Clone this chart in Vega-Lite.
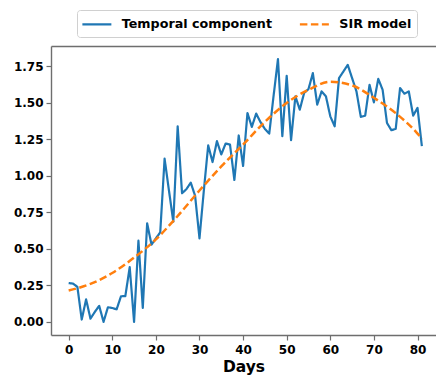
{
  "$schema": "https://vega.github.io/schema/vega-lite/v6.json",
  "autosize": {"type": "none"},
  "width": 385,
  "height": 289,
  "padding": {"left": 51, "top": 46, "right": 0, "bottom": 43},
  "background": "white",
  "config": {
    "view": {"stroke": null},
    "font": "DejaVu Sans",
    "axis": {
      "grid": false,
      "domainColor": "#6e6e6e",
      "domainWidth": 1.4,
      "tickColor": "#6e6e6e",
      "tickWidth": 1.2,
      "tickSize": 5,
      "labelFont": "DejaVu Sans",
      "labelFontWeight": "bold",
      "labelFontSize": 12,
      "labelColor": "black",
      "titleFont": "DejaVu Sans",
      "titleFontWeight": "bold",
      "titleColor": "black"
    },
    "legend": {
      "gridAlign": "each"
    }
  },
  "data": {
    "values": [
      {"day": 0, "value": 0.266, "series": "Temporal component"},
      {"day": 1, "value": 0.262, "series": "Temporal component"},
      {"day": 2, "value": 0.24, "series": "Temporal component"},
      {"day": 3, "value": 0.016, "series": "Temporal component"},
      {"day": 4, "value": 0.154, "series": "Temporal component"},
      {"day": 5, "value": 0.022, "series": "Temporal component"},
      {"day": 6, "value": 0.068, "series": "Temporal component"},
      {"day": 7, "value": 0.11, "series": "Temporal component"},
      {"day": 8, "value": 0.0, "series": "Temporal component"},
      {"day": 9, "value": 0.1, "series": "Temporal component"},
      {"day": 10, "value": 0.095, "series": "Temporal component"},
      {"day": 11, "value": 0.086, "series": "Temporal component"},
      {"day": 12, "value": 0.175, "series": "Temporal component"},
      {"day": 13, "value": 0.177, "series": "Temporal component"},
      {"day": 14, "value": 0.375, "series": "Temporal component"},
      {"day": 15, "value": 0.0, "series": "Temporal component"},
      {"day": 16, "value": 0.556, "series": "Temporal component"},
      {"day": 17, "value": 0.095, "series": "Temporal component"},
      {"day": 18, "value": 0.675, "series": "Temporal component"},
      {"day": 19, "value": 0.529, "series": "Temporal component"},
      {"day": 20, "value": 0.572, "series": "Temporal component"},
      {"day": 21, "value": 0.613, "series": "Temporal component"},
      {"day": 22, "value": 1.118, "series": "Temporal component"},
      {"day": 23, "value": 0.9, "series": "Temporal component"},
      {"day": 24, "value": 0.686, "series": "Temporal component"},
      {"day": 25, "value": 1.34, "series": "Temporal component"},
      {"day": 26, "value": 0.881, "series": "Temporal component"},
      {"day": 27, "value": 0.909, "series": "Temporal component"},
      {"day": 28, "value": 0.954, "series": "Temporal component"},
      {"day": 29, "value": 0.863, "series": "Temporal component"},
      {"day": 30, "value": 0.572, "series": "Temporal component"},
      {"day": 31, "value": 0.9, "series": "Temporal component"},
      {"day": 32, "value": 1.209, "series": "Temporal component"},
      {"day": 33, "value": 1.095, "series": "Temporal component"},
      {"day": 34, "value": 1.238, "series": "Temporal component"},
      {"day": 35, "value": 1.147, "series": "Temporal component"},
      {"day": 36, "value": 1.222, "series": "Temporal component"},
      {"day": 37, "value": 1.215, "series": "Temporal component"},
      {"day": 38, "value": 0.972, "series": "Temporal component"},
      {"day": 39, "value": 1.277, "series": "Temporal component"},
      {"day": 40, "value": 1.068, "series": "Temporal component"},
      {"day": 41, "value": 1.431, "series": "Temporal component"},
      {"day": 42, "value": 1.336, "series": "Temporal component"},
      {"day": 43, "value": 1.427, "series": "Temporal component"},
      {"day": 44, "value": 1.368, "series": "Temporal component"},
      {"day": 45, "value": 1.322, "series": "Temporal component"},
      {"day": 46, "value": 1.29, "series": "Temporal component"},
      {"day": 47, "value": 1.55, "series": "Temporal component"},
      {"day": 48, "value": 1.8, "series": "Temporal component"},
      {"day": 49, "value": 1.272, "series": "Temporal component"},
      {"day": 50, "value": 1.686, "series": "Temporal component"},
      {"day": 51, "value": 1.245, "series": "Temporal component"},
      {"day": 52, "value": 1.545, "series": "Temporal component"},
      {"day": 53, "value": 1.454, "series": "Temporal component"},
      {"day": 54, "value": 1.568, "series": "Temporal component"},
      {"day": 55, "value": 1.595, "series": "Temporal component"},
      {"day": 56, "value": 1.704, "series": "Temporal component"},
      {"day": 57, "value": 1.488, "series": "Temporal component"},
      {"day": 58, "value": 1.579, "series": "Temporal component"},
      {"day": 59, "value": 1.545, "series": "Temporal component"},
      {"day": 60, "value": 1.408, "series": "Temporal component"},
      {"day": 61, "value": 1.34, "series": "Temporal component"},
      {"day": 62, "value": 1.67, "series": "Temporal component"},
      {"day": 63, "value": 1.715, "series": "Temporal component"},
      {"day": 64, "value": 1.761, "series": "Temporal component"},
      {"day": 65, "value": 1.67, "series": "Temporal component"},
      {"day": 66, "value": 1.579, "series": "Temporal component"},
      {"day": 67, "value": 1.404, "series": "Temporal component"},
      {"day": 68, "value": 1.413, "series": "Temporal component"},
      {"day": 69, "value": 1.624, "series": "Temporal component"},
      {"day": 70, "value": 1.504, "series": "Temporal component"},
      {"day": 71, "value": 1.665, "series": "Temporal component"},
      {"day": 72, "value": 1.59, "series": "Temporal component"},
      {"day": 73, "value": 1.363, "series": "Temporal component"},
      {"day": 74, "value": 1.313, "series": "Temporal component"},
      {"day": 75, "value": 1.322, "series": "Temporal component"},
      {"day": 76, "value": 1.602, "series": "Temporal component"},
      {"day": 77, "value": 1.563, "series": "Temporal component"},
      {"day": 78, "value": 1.579, "series": "Temporal component"},
      {"day": 79, "value": 1.413, "series": "Temporal component"},
      {"day": 80, "value": 1.466, "series": "Temporal component"},
      {"day": 81, "value": 1.204, "series": "Temporal component"},
      {"day": 0, "value": 0.215, "series": "SIR model"},
      {"day": 5, "value": 0.26, "series": "SIR model"},
      {"day": 10, "value": 0.335, "series": "SIR model"},
      {"day": 15, "value": 0.44, "series": "SIR model"},
      {"day": 20, "value": 0.565, "series": "SIR model"},
      {"day": 25, "value": 0.725, "series": "SIR model"},
      {"day": 30, "value": 0.9, "series": "SIR model"},
      {"day": 35, "value": 1.065, "series": "SIR model"},
      {"day": 40, "value": 1.215, "series": "SIR model"},
      {"day": 45, "value": 1.37, "series": "SIR model"},
      {"day": 50, "value": 1.5, "series": "SIR model"},
      {"day": 55, "value": 1.59, "series": "SIR model"},
      {"day": 60, "value": 1.645, "series": "SIR model"},
      {"day": 65, "value": 1.62, "series": "SIR model"},
      {"day": 70, "value": 1.535, "series": "SIR model"},
      {"day": 75, "value": 1.43, "series": "SIR model"},
      {"day": 80, "value": 1.29, "series": "SIR model"},
      {"day": 81, "value": 1.255, "series": "SIR model"}
    ]
  },
  "resolve": {"axis": {"x": "independent"}},
  "layer": [
    {
      "transform": [{"filter": "datum.series === 'Temporal component'"}],
      "mark": {"type": "line", "strokeWidth": 2.2, "strokeJoin": "round"},
      "encoding": {
        "x": {
          "field": "day", "type": "quantitative",
          "scale": {"domain": [-4.05, 84.24], "nice": false, "zero": false},
          "axis": {"values": [0, 10, 20, 30, 40, 50, 60, 70, 80], "title": "Days", "titleFontSize": 15.5, "labelPadding": 4, "titlePadding": 4, "labelFlush": false}
        },
        "y": {
          "field": "value", "type": "quantitative",
          "scale": {"domain": [-0.09, 1.89], "nice": false, "zero": false},
          "axis": {"values": [0, 0.25, 0.5, 0.75, 1, 1.25, 1.5, 1.75], "format": ".2f", "title": null, "labelPadding": 3}
        },
        "color": {
          "field": "series", "type": "nominal",
          "scale": {"domain": ["Temporal component", "SIR model"], "range": ["#1f77b4", "#ff7f0e"]},
          "legend": {
            "title": null, "orient": "none", "direction": "horizontal",
            "legendX": 26, "legendY": -36, "gridAlign": "each",
            "fillColor": "white", "strokeColor": "#d0d0d0", "cornerRadius": 3,
            "padding": 5.5, "columnPadding": 22.5,
            "symbolType": "M-1.23,0H2.91", "symbolSize": 196, "symbolStrokeWidth": 2.2,
            "labelOffset": 22.3, "labelFont": "DejaVu Sans", "labelFontWeight": "bold",
            "labelFontSize": 12.7, "labelColor": "black", "labelLimit": 300
          }
        },
        "strokeDash": {
          "field": "series", "type": "nominal",
          "scale": {"domain": ["Temporal component", "SIR model"], "range": [[1, 0], [7.5, 3.5]]},
          "legend": {
            "title": null, "orient": "none", "direction": "horizontal",
            "legendX": 26, "legendY": -36, "gridAlign": "each",
            "fillColor": "white", "strokeColor": "#d0d0d0", "cornerRadius": 3,
            "padding": 5.5, "columnPadding": 22.5,
            "symbolType": "M-1.23,0H2.91", "symbolSize": 196, "symbolStrokeWidth": 2.2,
            "labelOffset": 22.3, "labelFont": "DejaVu Sans", "labelFontWeight": "bold",
            "labelFontSize": 12.7, "labelColor": "black", "labelLimit": 300
          }
        }
      }
    },
    {
      "transform": [{"filter": "datum.series === 'SIR model'"}],
      "mark": {"type": "line", "strokeWidth": 2.5, "interpolate": "monotone"},
      "encoding": {
        "x": {
          "field": "day", "type": "quantitative",
          "axis": {"orient": "top", "labels": false, "ticks": false, "title": null}
        },
        "y": {"field": "value", "type": "quantitative"},
        "color": {"field": "series", "type": "nominal"},
        "strokeDash": {"field": "series", "type": "nominal"}
      }
    }
  ]
}
